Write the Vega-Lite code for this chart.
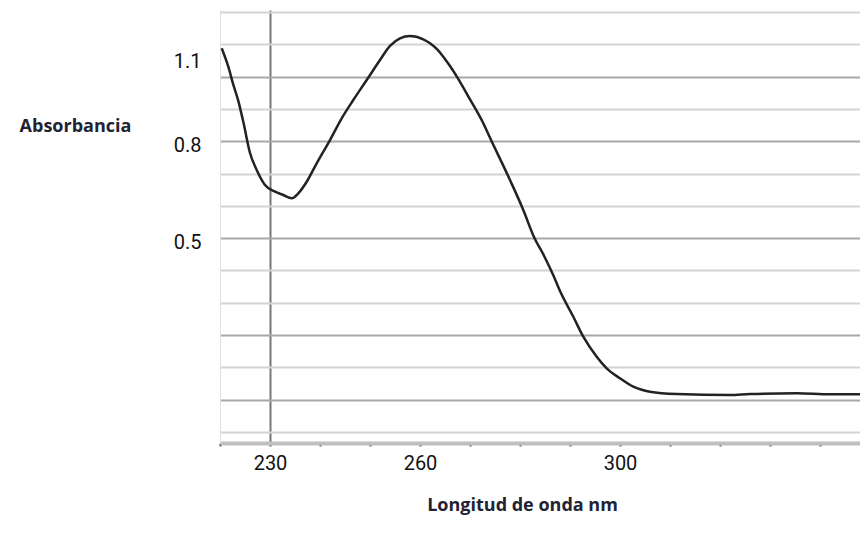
{
  "$schema": "https://vega.github.io/schema/vega-lite/v6.json",
  "width": 640,
  "height": 433,
  "autosize": {"type": "none"},
  "padding": {"left": 220, "top": 10, "right": 0, "bottom": 90},
  "background": "white",
  "config": {"view": {"stroke": null}},
  "data": {"values": [
    {"nm": 220.34, "abs": 1.0875},
    {"nm": 221.66, "abs": 1.0305},
    {"nm": 222.66, "abs": 0.975},
    {"nm": 223.66, "abs": 0.925},
    {"nm": 224.66, "abs": 0.86},
    {"nm": 226.0, "abs": 0.7634},
    {"nm": 227.34, "abs": 0.7108},
    {"nm": 229.0, "abs": 0.6644},
    {"nm": 231.0, "abs": 0.6436},
    {"nm": 232.66, "abs": 0.6334},
    {"nm": 234.34, "abs": 0.6232},
    {"nm": 235.66, "abs": 0.6387},
    {"nm": 237.34, "abs": 0.6746},
    {"nm": 239.34, "abs": 0.7315},
    {"nm": 242.0, "abs": 0.8036},
    {"nm": 244.34, "abs": 0.8708},
    {"nm": 246.66, "abs": 0.9274},
    {"nm": 249.34, "abs": 0.9893},
    {"nm": 252.0, "abs": 1.0512},
    {"nm": 254.0, "abs": 1.0947},
    {"nm": 256.0, "abs": 1.1184},
    {"nm": 258.0, "abs": 1.1255},
    {"nm": 260.66, "abs": 1.1151},
    {"nm": 262.0, "abs": 1.1029},
    {"nm": 263.34, "abs": 1.0854},
    {"nm": 264.66, "abs": 1.0615},
    {"nm": 266.0, "abs": 1.0325},
    {"nm": 267.34, "abs": 1.0006},
    {"nm": 270.0, "abs": 0.9294},
    {"nm": 272.66, "abs": 0.8553},
    {"nm": 274.0, "abs": 0.8106},
    {"nm": 278.0, "abs": 0.6798},
    {"nm": 280.66, "abs": 0.587},
    {"nm": 282.66, "abs": 0.5084},
    {"nm": 285.0, "abs": 0.4395},
    {"nm": 286.66, "abs": 0.3851},
    {"nm": 288.0, "abs": 0.3362},
    {"nm": 290.66, "abs": 0.2568},
    {"nm": 292.66, "abs": 0.1949},
    {"nm": 295.34, "abs": 0.1329},
    {"nm": 297.34, "abs": 0.097},
    {"nm": 300.0, "abs": 0.0661},
    {"nm": 302.66, "abs": 0.0401},
    {"nm": 306.0, "abs": 0.0246},
    {"nm": 311.34, "abs": 0.0175},
    {"nm": 322.0, "abs": 0.0144},
    {"nm": 326.0, "abs": 0.0175},
    {"nm": 335.34, "abs": 0.0197},
    {"nm": 342.0, "abs": 0.0166},
    {"nm": 348.0, "abs": 0.0166}
  ]},
  "mark": {"type": "line", "color": "#222222", "strokeWidth": 2.5, "interpolate": "monotone"},
  "encoding": {
    "x": {
      "field": "nm",
      "type": "quantitative",
      "scale": {"domain": [220, 348], "nice": false, "zero": false},
      "axis": {
        "values": [220, 230, 240, 250, 260, 270, 280, 290, 300, 310, 320, 330, 340],
        "labelExpr": "datum.value == 230 || datum.value == 260 || datum.value == 300 ? datum.label : ''",
        "title": "Longitud de onda nm",
        "titleFont": "Open Sans",
        "titleFontWeight": "bold",
        "titleFontSize": 18,
        "titleColor": "#222233",
        "titleX": 302,
        "titleY": 62,
        "titleAnchor": null,
        "titleAlign": "center",
        "titleBaseline": "middle",
        "labelFont": "Roboto",
        "labelFontSize": 20,
        "labelColor": "#111111",
        "labelPadding": 7,
        "labelFlush": false,
        "domainColor": "#c0c0c0",
        "domainWidth": 4,
        "tickColor": "#555555",
        "tickSize": 3,
        "tickWidth": 2,
        "grid": true,
        "gridWidth": 2,
        "gridColor": {"condition": {"test": "datum.value == 230", "value": "#777777"}, "value": "transparent"}
      }
    },
    "y": {
      "field": "abs",
      "type": "quantitative",
      "scale": {"domain": [-0.134, 1.206], "nice": false, "zero": false},
      "axis": {
        "values": [-0.1, 0, 0.1, 0.2, 0.3, 0.4, 0.5, 0.6, 0.7, 0.8, 0.9, 1.0, 1.1, 1.2],
        "format": ".1f",
        "labelExpr": "datum.label == '0.5' || datum.label == '0.8' || datum.label == '1.1' ? datum.label : ''",
        "labelOffset": {"condition": {"test": "datum.value == 1.1", "value": 17}, "value": 4},
        "title": "Absorbancia",
        "titleFont": "Open Sans",
        "titleFontWeight": "bold",
        "titleFontSize": 18,
        "titleColor": "#222233",
        "titleAngle": 0,
        "titleX": -145,
        "titleY": 116,
        "titleAnchor": null,
        "titleAlign": "center",
        "titleBaseline": "middle",
        "labelFont": "Roboto",
        "labelFontSize": 20,
        "labelColor": "#111111",
        "labelPadding": 19,
        "labelFlush": false,
        "ticks": false,
        "domainColor": "#e0e0e0",
        "domainWidth": 1,
        "grid": true,
        "gridWidth": 2,
        "gridColor": {"condition": {"test": "datum.value == 1 || datum.value == 0.8 || datum.value == 0.5 || datum.value == 0.2 || datum.value == 0", "value": "#a8a8a8"}, "value": "#d4d4d4"}
      }
    }
  }
}
